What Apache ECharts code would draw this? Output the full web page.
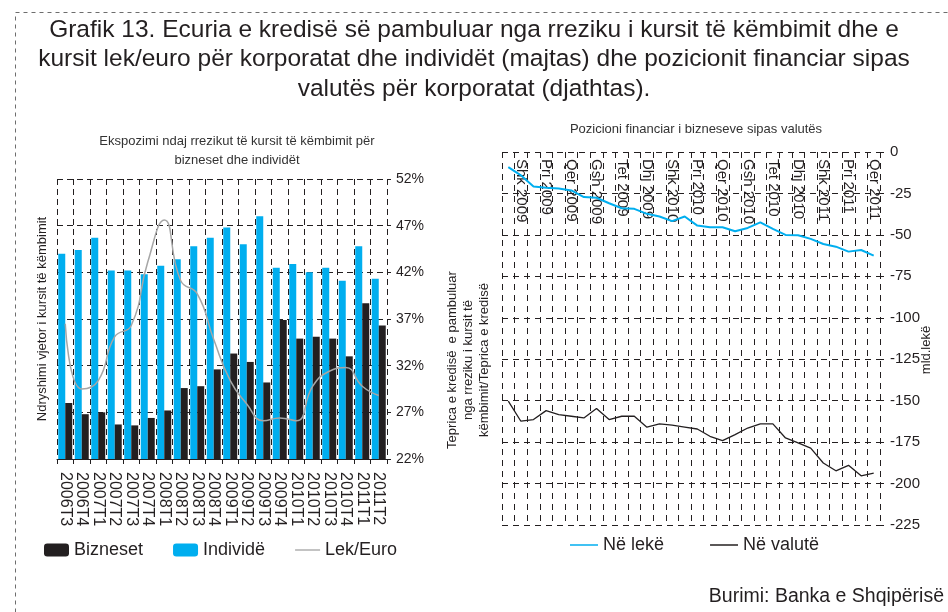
<!DOCTYPE html>
<html>
<head>
<meta charset="utf-8">
<script src="https://cdn.jsdelivr.net/npm/echarts@6/dist/echarts.min.js"></script>
<style>
  html, body { margin: 0; padding: 0; background: #fff; }
  #chart { width: 948px; height: 612px; }
</style>
</head>
<body>
<div id="chart"></div>
<script>
// left chart: quarters
const quarters = ['2006T3', '2006T4', '2007T1', '2007T2', '2007T3', '2007T4', '2008T1', '2008T2', '2008T3', '2008T4',
  '2009T1', '2009T2', '2009T3', '2009T4', '2010T1', '2010T2', '2010T3', '2010T4', '2011T1', '2011T2']
const individe = [44.0, 44.4, 45.7, 42.2, 42.2, 41.8, 42.7, 43.4, 44.8, 45.7,
  46.8, 45.0, 48.0, 42.5, 42.9, 42.0, 42.5, 41.1, 44.8, 41.3]
const bizneset = [28.0, 26.8, 27.0, 25.7, 25.6, 26.4, 27.2, 29.6, 29.8, 31.6,
  33.3, 32.4, 30.2, 36.9, 34.9, 35.1, 34.9, 33.0, 38.7, 36.3]
const lekEuro = [36.5, 29.5, 30.4, 35.1, 36.3, 43.1, 47.6, 41.1, 39.7, 34.8,
  30.4, 27.9, 26.1, 26.4, 26.1, 29.8, 31.4, 31.8, 29.8, 28.8]
const pctTicks = [22, 52, 5]

// right chart: months
const months = ['Jan 2009', 'Shk 2009', 'Mar 2009', 'Pri 2009', 'Maj 2009', 'Qer 2009', 'Kor 2009', 'Gsh 2009', 'Sht 2009', 'Tet 2009', 'Nën 2009', 'Dhj 2009',
  'Jan 2010', 'Shk 2010', 'Mar 2010', 'Pri 2010', 'Maj 2010', 'Qer 2010', 'Kor 2010', 'Gsh 2010', 'Sht 2010', 'Tet 2010', 'Nën 2010', 'Dhj 2010',
  'Jan 2011', 'Shk 2011', 'Mar 2011', 'Pri 2011', 'Maj 2011', 'Qer 2011']
const neLeke = [-9.1, -14.1, -20.8, -21.6, -22.0, -23.2, -27.2, -27.6, -30.9, -33.9,
  -34.3, -37.3, -38.9, -41.7, -38.9, -44.4, -45.4, -45.4, -47.8, -45.8,
  -42.4, -46.4, -50.0, -50.2, -52.4, -55.5, -57.1, -60.1, -59.1, -62.5]
const neValute = [-150.3, -162.4, -161.4, -156.0, -158.4, -159.4, -160.4, -154.7, -161.4, -159.4,
  -159.4, -166.0, -164.0, -164.8, -165.9, -167.1, -171.5, -174.1, -170.5, -166.5,
  -164.0, -164.0, -172.5, -175.5, -178.6, -187.6, -192.3, -189.0, -195.3, -193.7]
const mldTicks = [-225, 0, 25]

const font = 'Liberation Sans, Arial, sans-serif'
const ink = '#231f20'
const blue = '#00aeef'
const lineIcon = 'path://M0,0H30V1.6H0Z'

let dom = document.getElementById('chart')
let myChart = echarts.init(dom, null, {renderer: 'canvas'})

let dashedLeft = {show: true, lineStyle: {color: ink, width: 1, type: [6, 4]}}
let dashedRight = {show: true, lineStyle: {color: ink, width: 1, type: [6, 5]}}

let option = {
  animation: false,
  textStyle: {fontFamily: font, color: ink},
  title: [
    {
      text: 'Grafik 13. Ecuria e kredisë së pambuluar nga rreziku i kursit të këmbimit dhe e\nkursit lek/euro për korporatat dhe individët (majtas) dhe pozicionit financiar sipas\nvalutës për korporatat (djathtas).',
      left: 'center',
      top: 10,
      textStyle: {fontFamily: font, fontSize: 24.5, fontWeight: 'normal', color: ink, lineHeight: 29.5}
    },
    {
      text: 'Ekspozimi ndaj rrezikut të kursit të këmbimit për\nbizneset dhe individët',
      left: 232,
      top: 127,
      textAlign: 'center',
      textStyle: {fontFamily: font, fontSize: 13, fontWeight: 'normal', color: '#333', lineHeight: 19}
    },
    {
      text: 'Pozicioni financiar i bizneseve sipas valutës',
      left: 691,
      top: 118,
      textAlign: 'center',
      textStyle: {fontFamily: font, fontSize: 13, fontWeight: 'normal', color: '#333'}
    }
  ],
  legend: [
    {
      data: [
        {name: 'Bizneset'},
        {name: 'Individë'},
        {name: 'Lek/Euro', icon: lineIcon}
      ],
      left: 44,
      top: 541,
      padding: 0,
      itemWidth: 25,
      itemHeight: 13,
      itemGap: 30,
      textStyle: {fontFamily: font, fontSize: 18, color: ink}
    },
    {
      data: [
        {name: 'Në lekë', icon: lineIcon},
        {name: 'Në valutë', icon: lineIcon}
      ],
      left: 570,
      top: 536,
      padding: 0,
      itemWidth: 28,
      itemHeight: 13,
      itemGap: 46,
      textStyle: {fontFamily: font, fontSize: 18, color: ink}
    }
  ],
  grid: [
    {left: 57, right: 561, top: 179, bottom: 153},
    {left: 502, right: 68, top: 152, bottom: 87}
  ],
  xAxis: [
    {
      type: 'category',
      gridIndex: 0,
      data: quarters,
      boundaryGap: true,
      axisLine: {show: true, lineStyle: {color: ink, width: 1}},
      axisTick: {show: true, length: 5, interval: 0, lineStyle: {color: ink}},
      axisLabel: {interval: 0, rotate: -90, fontSize: 16, color: ink, margin: 13},
      splitLine: Object.assign({interval: 0}, dashedLeft)
    },
    {
      type: 'category',
      gridIndex: 1,
      data: months,
      position: 'top',
      boundaryGap: true,
      axisLine: {show: false},
      axisTick: {show: false},
      axisLabel: {
        inside: true,
        rotate: -90,
        fontSize: 15,
        color: ink,
        margin: 7,
        interval: function (idx) { return idx % 2 === 1 }
      },
      splitLine: Object.assign({interval: 0}, dashedRight)
    }
  ],
  yAxis: [
    {
      type: 'value',
      gridIndex: 0,
      position: 'right',
      min: pctTicks[0],
      max: pctTicks[1],
      interval: pctTicks[2],
      axisLine: {show: false},
      axisTick: {show: true, length: 4, lineStyle: {color: ink}},
      axisLabel: {formatter: '{value}%', fontSize: 14, color: ink, margin: 9},
      splitLine: dashedLeft
    },
    {
      type: 'value',
      gridIndex: 0,
      position: 'left',
      min: pctTicks[0],
      max: pctTicks[1],
      interval: pctTicks[2],
      axisLine: {show: false},
      axisTick: {show: false},
      axisLabel: {show: false},
      splitLine: {show: false},
      name: 'Ndryshimi vjetor i kursit të këmbimit',
      nameLocation: 'middle',
      nameRotate: 90,
      nameGap: 8,
      nameTextStyle: {fontFamily: font, fontSize: 13, color: ink}
    },
    {
      type: 'value',
      gridIndex: 1,
      position: 'right',
      min: mldTicks[0],
      max: mldTicks[1],
      interval: mldTicks[2],
      axisLine: {show: false},
      axisTick: {show: true, length: 4, lineStyle: {color: ink}},
      axisLabel: {fontSize: 15, color: ink, margin: 10},
      splitLine: dashedRight
    }
  ],
  series: [
    {
      name: 'Individë',
      type: 'bar',
      xAxisIndex: 0,
      yAxisIndex: 0,
      data: individe,
      barWidth: 7,
      barGap: '0%',
      itemStyle: {color: blue}
    },
    {
      name: 'Bizneset',
      type: 'bar',
      xAxisIndex: 0,
      yAxisIndex: 0,
      data: bizneset,
      barWidth: 7,
      barGap: '0%',
      itemStyle: {color: ink}
    },
    {
      name: 'Lek/Euro',
      type: 'line',
      xAxisIndex: 0,
      yAxisIndex: 1,
      data: lekEuro,
      smooth: 0.5,
      symbol: 'none',
      lineStyle: {color: '#a6a6a6', width: 1.5},
      itemStyle: {color: '#a6a6a6'}
    },
    {
      name: 'Në lekë',
      type: 'line',
      xAxisIndex: 1,
      yAxisIndex: 2,
      data: neLeke,
      symbol: 'none',
      lineStyle: {color: blue, width: 2},
      itemStyle: {color: blue}
    },
    {
      name: 'Në valutë',
      type: 'line',
      xAxisIndex: 1,
      yAxisIndex: 2,
      data: neValute,
      symbol: 'none',
      lineStyle: {color: ink, width: 1.3},
      itemStyle: {color: ink}
    }
  ],
  graphic: [
    {
      type: 'rect',
      x: 15.5,
      y: 12.5,
      shape: {width: 960, height: 640},
      style: {fill: 'none', stroke: '#6d6d6d', lineWidth: 1, lineDash: [4, 4]},
      silent: true
    },
    {
      type: 'text',
      x: 468,
      y: 360,
      rotation: Math.PI / 2,
      style: {
        text: 'Teprica e kredisë  e pambuluar\nnga rreziku i kursit të\nkëmbimit/Teprica e kredisë',
        fontFamily: font,
        fontSize: 13,
        lineHeight: 16,
        fill: ink,
        align: 'center',
        verticalAlign: 'middle'
      }
    },
    {
      type: 'text',
      x: 926,
      y: 350,
      rotation: Math.PI / 2,
      style: {
        text: 'mld.lekë',
        fontFamily: font,
        fontSize: 13,
        fill: ink,
        align: 'center',
        verticalAlign: 'middle'
      }
    },
    {
      type: 'text',
      right: 4,
      top: 587,
      style: {text: 'Burimi: Banka e Shqipërisë', fontFamily: font, fontSize: 19.5, fill: ink}
    }
  ]
}

myChart.setOption(option)
</script>
</body>
</html>
